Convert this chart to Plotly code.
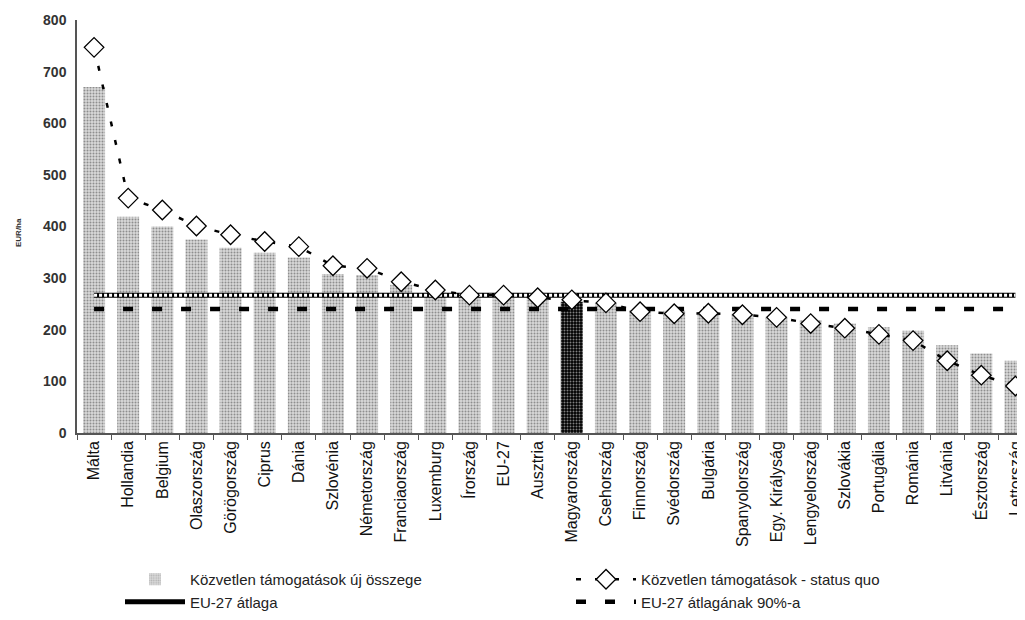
import plotly.graph_objects as go

countries = ["Málta", "Hollandia", "Belgium", "Olaszország", "Görögország", "Ciprus", "Dánia",
             "Szlovénia", "Németország", "Franciaország", "Luxemburg", "Írország", "EU-27",
             "Ausztria", "Magyarország", "Csehország", "Finnország", "Svédország", "Bulgária",
             "Spanyolország", "Egy. Királyság", "Lengyelország", "Szlovákia", "Portugália",
             "Románia", "Litvánia", "Észtország", "Lettország"]
new_amount = [670, 419, 400, 375, 359, 349, 340, 308, 306, 287, 272, 266, 262, 259, 254,
              252, 238, 237, 233, 231, 225, 219, 212, 205, 198, 170, 154, 140]
status_quo = [747, 455, 432, 401, 384, 371, 361, 324, 319, 293, 277, 267, 267, 262, 258,
              252, 235, 231, 232, 229, 224, 212, 203, 191, 179, 140, 112, 91]
eu_avg = [267] * len(countries)
eu_avg90 = [240] * len(countries)

bar_bg = ["#000000" if c == "Magyarország" else "#d8d8d8" for c in countries]
bar_fg = ["#ffffff" if c == "Magyarország" else "#8c8c8c" for c in countries]

font_main = "Liberation Sans, Arial, sans-serif"

fig = go.Figure()
fig.add_trace(go.Bar(
    x=countries, y=new_amount, name="Közvetlen támogatások új összege",
    marker=dict(color=bar_bg, line=dict(width=0),
                pattern=dict(shape=".", fgcolor=bar_fg, bgcolor=bar_bg, size=3, solidity=0.35)),
    width=0.645, legend="legend",
))
fig.add_trace(go.Scatter(
    x=countries, y=eu_avg, name="EU-27 átlaga", mode="lines",
    line=dict(color="black", width=5), legend="legend",
))
fig.add_trace(go.Scatter(
    x=countries, y=eu_avg, name="EU-27 átlaga (pontok)", mode="lines", showlegend=False,
    line=dict(color="white", width=3, dash="3px,2px"), hoverinfo="skip",
))
fig.add_trace(go.Scatter(
    x=countries, y=eu_avg90, name="EU-27 átlagának 90%-a", mode="lines",
    line=dict(color="black", width=4.5, dash="10px,19px"), legend="legend2",
))
fig.add_trace(go.Scatter(
    x=countries, y=status_quo, name="Közvetlen támogatások - status quo",
    mode="lines+markers",
    line=dict(color="black", width=2.5, dash="5px,14px"),
    marker=dict(symbol="diamond", size=15, color="white", line=dict(color="black", width=1.3)),
    legend="legend2",
))

legend_common = dict(orientation="v", xanchor="left", yanchor="top",
                     font=dict(size=15, color="#222", family=font_main),
                     itemwidth=60, tracegroupgap=0, bgcolor="rgba(0,0,0,0)")

fig.update_layout(
    width=1025, height=620,
    margin=dict(l=69, r=8, t=12, b=195, autoexpand=False),
    plot_bgcolor="white", paper_bgcolor="white",
    font=dict(family=font_main, color="#222"),
    showlegend=True,
    legend=dict(x=(120 - 77) / 948, y=(433 - 563) / 413, traceorder="normal", **legend_common),
    legend2=dict(x=(571 - 77) / 948, y=(433 - 563) / 413, traceorder="reversed", **legend_common),
    xaxis=dict(
        type="category", range=[-0.5, 27.28], automargin=False,
        showline=True, linecolor="#555", linewidth=1.5,
        ticks="outside", tickson="boundaries", ticklen=5, tickcolor="#555",
        tickangle=-90, tickfont=dict(size=16, color="#111"), ticklabeloverflow="allow",
        showgrid=False,
    ),
    yaxis=dict(
        range=[0, 800], dtick=100, automargin=False,
        showline=True, linecolor="#555", linewidth=1.5,
        ticks="", showgrid=False, zeroline=False, ticklabelstandoff=6,
        tickfont=dict(size=14, color="#333", family=font_main, weight="bold"),
    ),
    annotations=[dict(
        text="<b>EUR/ha</b>", textangle=-90, showarrow=False,
        xref="paper", yref="paper", x=(18 - 77) / 948, y=(433 - 233) / 413,
        xanchor="center", yanchor="middle", font=dict(size=8, color="#333"),
    )],
)

fig.write_html("out.html")
